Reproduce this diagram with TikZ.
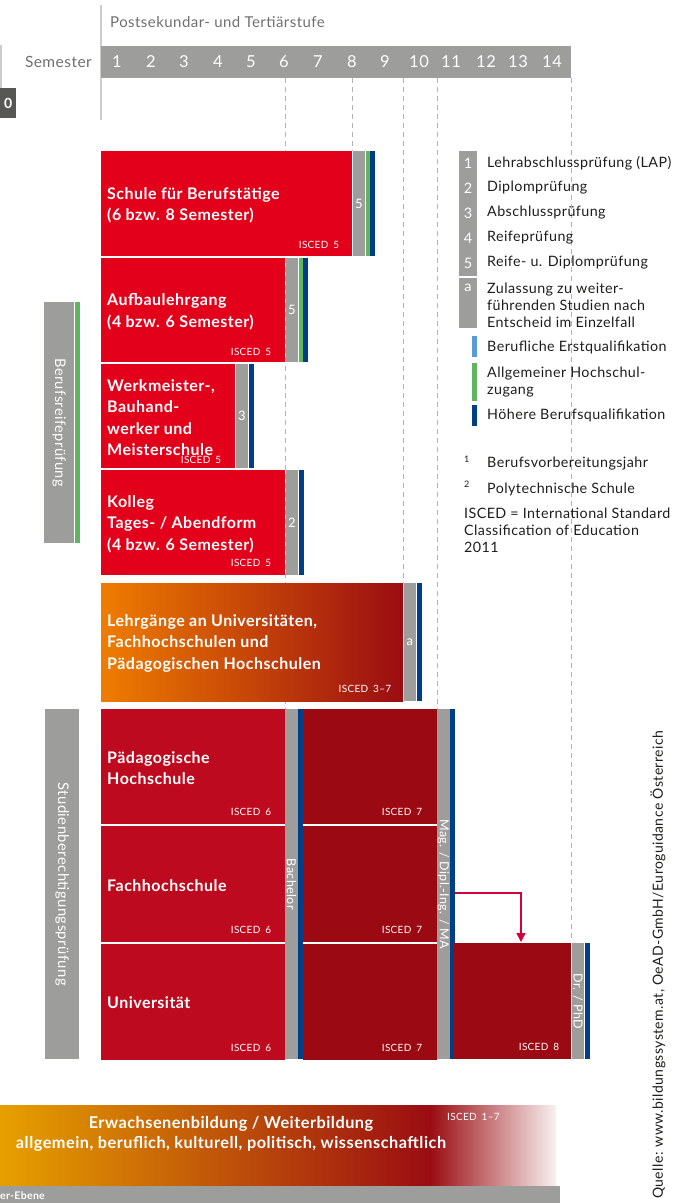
\documentclass[tikz,border=0pt]{standalone}
\usepackage{fontspec}
\setmainfont{Lato}[LetterSpace=3]
\usetikzlibrary{positioning, arrows.meta}

\definecolor{bargray}{HTML}{9D9D9C}
\definecolor{boxred}{HTML}{E2001A}
\definecolor{unired}{HTML}{BE0A1E}
\definecolor{masterred}{HTML}{9B0A12}
\definecolor{qualblue}{HTML}{003F87}
\definecolor{qualgreen}{HTML}{62B560}
\definecolor{firstblue}{HTML}{5B9BD5}
\definecolor{dashgray}{HTML}{B2B2B2}
\definecolor{headgray}{HTML}{6F6F6E}
\definecolor{darkbox}{HTML}{575756}
\definecolor{lgorange}{HTML}{EF7D00}
\definecolor{lgred}{HTML}{9A0C12}
\definecolor{ebyellow}{HTML}{E6A000}
\definecolor{arrowred}{HTML}{D4003C}
\definecolor{legendtext}{HTML}{1D1D1B}

\begin{document}
\begin{tikzpicture}[x=1pt, y=-1pt]
\tikzstyle{block}=[rectangle, inner sep=0pt, anchor=north west, fill=boxred]
\tikzstyle{exambar}=[rectangle, inner sep=0pt, minimum width=12.5pt, fill=bargray, text=white, font=\fontsize{13}{13}\selectfont]
\tikzstyle{qualbar}=[rectangle, inner sep=0pt, minimum width=5pt]
\tikzstyle{boxtitle}=[anchor=west, align=left, inner sep=0pt, text=white, font=\bfseries\fontsize{16}{21.3}\selectfont]
\tikzstyle{isced}=[anchor=east, inner sep=0pt, text=white, font=\fontsize{10}{10}\selectfont]
\tikzstyle{sidebar}=[rectangle, inner sep=0pt, anchor=north west, fill=bargray]
\tikzstyle{sidetext}=[rotate=-90, inner sep=0pt, text=white, font=\fontsize{12.5}{12.5}\selectfont]
\tikzstyle{legend}=[anchor=west, inner sep=0pt, align=left, text=legendtext, font=\fontsize{14.3}{17}\selectfont]
\tikzstyle{legnum}=[inner sep=0pt, text=white, font=\fontsize{14.5}{14.5}\selectfont]
\tikzstyle{semline}=[dash pattern=on 5pt off 4pt, dashgray, line width=1pt]
    \useasboundingbox (0,0) rectangle (678,1203);

    % header
    \draw[black!20, line width=1.5pt] (101,5) -- (101,120);
    \draw[black!20, line width=1.5pt] (1,45) -- (1,88);
    \node[rectangle, fill=darkbox, inner sep=0pt, anchor=north west, minimum width=16pt, minimum height=30pt,
          text=white, font=\bfseries\fontsize{14}{14}\selectfont] (Prev) at (0,88) {0};
    \node[anchor=west, inner sep=0pt, text=headgray, font=\fontsize{15}{15}\selectfont] (Stufe) at (110,22) {Postsekundar- und Tertiärstufe};
    \node[rectangle, fill=bargray, inner sep=0pt, anchor=north west, minimum width=470pt, minimum height=32pt] (Sem) at (101,46) {};
    \node[anchor=east, inner sep=0pt, text=headgray, font=\fontsize{15.5}{15.5}\selectfont] (SemLabel) at (92,62) {Semester};
    \foreach \x/\n in {117/1, 151/2, 184/3, 218/4, 251/5, 284/6, 318/7, 352/8, 385/9, 419/10, 451/11, 486/12, 518/13, 552/14}
        \node[inner sep=0pt, text=white, font=\fontsize{16.5}{16.5}\selectfont] at (\x,62) {\n};

    % semester boundaries
    \draw[semline] (285,78) -- (285,709);
    \draw[semline] (352,78) -- (352,151);
    \draw[semline] (403,78) -- (403,583);
    \draw[semline] (437,78) -- (437,709);
    \draw[semline] (571,78) -- (571,942);

    % Berufsreifeprüfung
    \node[sidebar, minimum width=30pt, minimum height=241pt] (BRP) at (44,302) {};
    \node[qualbar, fill=qualgreen, minimum height=241pt, right=0pt of BRP] (BRPgreen) {};
    \node[sidetext, font=\fontsize{14.6}{14.6}\selectfont] at (BRP.center) {Berufsreifeprüfung};

    % Schule für Berufstätige
    \node[block, minimum width=251pt, minimum height=105pt] (SfB) at (101,151) {};
    \node[exambar, minimum height=105pt, right=0pt of SfB] (SfBexam) {5};
    \node[qualbar, fill=qualgreen, minimum width=4pt, minimum height=105pt, right=0pt of SfBexam] (SfBgreen) {};
    \node[qualbar, fill=qualblue, minimum height=105pt, right=0pt of SfBgreen] (SfBblue) {};
    \node[boxtitle] at ([xshift=6pt, yshift=-1.5pt]SfB.west) {Schule für Berufstätige\\(6 bzw. 8 Semester)};
    \node[isced] at ([xshift=-13pt, yshift=11pt]SfB.south east) {ISCED\enspace 5};

    % Aufbaulehrgang
    \node[block, minimum width=184pt, minimum height=104pt] (Aufbau) at (101,258) {};
    \node[exambar, minimum height=104pt, right=0pt of Aufbau] (Aufbauexam) {5};
    \node[qualbar, fill=qualgreen, minimum width=4pt, minimum height=104pt, right=0pt of Aufbauexam] (Aufbaugreen) {};
    \node[qualbar, fill=qualblue, minimum height=104pt, right=0pt of Aufbaugreen] (Aufbaublue) {};
    \node[boxtitle] at ([xshift=6pt, yshift=-1.5pt]Aufbau.west) {Aufbaulehrgang\\(4 bzw. 6 Semester)};
    \node[isced] at ([xshift=-14pt, yshift=10pt]Aufbau.south east) {ISCED\enspace 5};

    % Werkmeister
    \node[block, minimum width=134pt, minimum height=104pt] (Werk) at (101,364) {};
    \node[exambar, minimum height=104pt, right=0pt of Werk] (Werkexam) {3};
    \node[qualbar, fill=qualblue, minimum height=104pt, right=0pt of Werkexam] (Werkblue) {};
    \node[boxtitle] at ([xshift=6pt, yshift=-1.5pt]Werk.west) {Werkmeister-,\\Bauhand-\\werker und\\Meisterschule};
    \node[isced] at ([xshift=-14pt, yshift=8pt]Werk.south east) {ISCED\enspace 5};

    % Kolleg
    \node[block, minimum width=184pt, minimum height=105pt] (Kolleg) at (101,470) {};
    \node[exambar, minimum height=105pt, right=0pt of Kolleg] (Kollegexam) {2};
    \node[qualbar, fill=qualblue, minimum height=105pt, right=0pt of Kollegexam] (Kollegblue) {};
    \node[boxtitle] at ([xshift=6pt, yshift=-1.5pt]Kolleg.west) {Kolleg\\Tages- / Abendform\\(4 bzw. 6 Semester)};
    \node[isced] at ([xshift=-14pt, yshift=12pt]Kolleg.south east) {ISCED\enspace 5};

    % Lehrgänge
    \node[block, fill=none, left color=lgorange, right color=lgred, minimum width=302pt, minimum height=118pt] (Lehrg) at (101,583) {};
    \node[exambar, minimum height=118pt, right=0pt of Lehrg] (Lehrgexam) {a};
    \node[qualbar, fill=qualblue, minimum height=118pt, right=0pt of Lehrgexam] (Lehrgblue) {};
    \node[boxtitle] at ([xshift=6pt, yshift=-1pt]Lehrg.west) {Lehrgänge an Universitäten,\\Fachhochschulen und\\Pädagogischen Hochschulen};
    \node[isced] at ([xshift=-12pt, yshift=12pt]Lehrg.south east) {ISCED\enspace 3--7};

    % Studienberechtigungsprüfung
    \node[sidebar, minimum width=34pt, minimum height=350pt] (SBP) at (45,709) {};
    \node[sidetext, font=\fontsize{14.8}{14.8}\selectfont] at (SBP.center) {Studienberechtigungsprüfung};

    % Hochschulen, Bachelor
    \node[block, fill=unired, minimum width=184pt, minimum height=115pt] (PH) at (101,709) {};
    \node[block, fill=unired, minimum width=184pt, minimum height=115.5pt, below=1.5pt of PH] (FH) {};
    \node[block, fill=unired, minimum width=184pt, minimum height=116pt, below=1.5pt of FH] (Uni) {};
    \node[boxtitle] at ([xshift=6pt, yshift=-1.5pt]PH.west) {Pädagogische\\Hochschule};
    \node[boxtitle] at ([xshift=6pt, yshift=-1.5pt]FH.west) {Fachhochschule};
    \node[boxtitle] at ([xshift=6pt, yshift=-1pt]Uni.west) {Universität};
    \node[isced] at ([xshift=-14pt, yshift=12pt]PH.south east) {ISCED\enspace 6};
    \node[isced] at ([xshift=-14pt, yshift=12pt]FH.south east) {ISCED\enspace 6};
    \node[isced] at ([xshift=-14pt, yshift=12pt]Uni.south east) {ISCED\enspace 6};
    \node[exambar, anchor=north west, minimum height=350pt] (Bachelor) at (285,709) {};
    \node[qualbar, fill=qualblue, minimum height=350pt, right=0pt of Bachelor] (Bachelorblue) {};
    \node[sidetext] at (Bachelor.center) {Bachelor};

    % Master
    \node[block, fill=masterred, minimum width=134pt, minimum height=115pt] (PHma) at (303,709) {};
    \node[block, fill=masterred, minimum width=134pt, minimum height=115.5pt, below=1.5pt of PHma] (FHma) {};
    \node[block, fill=masterred, minimum width=134pt, minimum height=116pt, below=1.5pt of FHma] (Unima) {};
    \node[isced] at ([xshift=-15pt, yshift=12pt]PHma.south east) {ISCED\enspace 7};
    \node[isced] at ([xshift=-15pt, yshift=12pt]FHma.south east) {ISCED\enspace 7};
    \node[isced] at ([xshift=-15pt, yshift=12pt]Unima.south east) {ISCED\enspace 7};
    \node[exambar, anchor=north west, minimum height=350pt] (Mag) at (437,709) {};
    \node[qualbar, fill=qualblue, minimum height=350pt, right=0pt of Mag] (Magblue) {};
    \node[sidetext] at (Mag.center) {Mag. / Dipl.-Ing. / MA};

    % Doktorat
    \node[block, fill=masterred, minimum width=117pt, minimum height=116pt] (Dr) at (454,943) {};
    \node[exambar, minimum height=116pt, right=0pt of Dr] (Drexam) {};
    \node[qualbar, fill=qualblue, minimum height=116pt, right=0pt of Drexam] (Drblue) {};
    \node[sidetext] at (Drexam.center) {Dr. / PhD};
    \node[isced] at ([xshift=-12pt, yshift=12pt]Dr.south east) {ISCED\enspace 8};
    \coordinate (arrowend) at (521,942);
    \draw[arrowred, line width=1.5pt, -{Triangle[length=9pt, width=9pt]}] (Magblue.east |- 0,893) -| (arrowend);

    % legend
    \node[sidebar, minimum width=18pt, minimum height=177pt] (Leg) at (459,151) {};
    \draw[white, line width=1.5pt] (Leg.west |- 0,277) -- (Leg.east |- 0,277);
    \node[legnum] at (468,163) {1};
    \node[legnum] at (468,188) {2};
    \node[legnum] at (468,213) {3};
    \node[legnum] at (468,238) {4};
    \node[legnum] at (468,263) {5};
    \node[legnum] at (468,288) {a};
    \node[legend] (L1) at (487,163) {Lehrabschlussprüfung (LAP)};
    \node[legend] (L2) at (487,188) {Diplomprüfung};
    \node[legend] (L3) at (487,213) {Abschlussprüfung};
    \node[legend] (L4) at (487,238) {Reifeprüfung};
    \node[legend] (L5) at (487,263) {Reife- u. Diplomprüfung};
    \node[legend] (La) at (487,305) {Zulassung zu weiter-\\führenden Studien nach\\Entscheid im Einzelfall};
    \node[qualbar, fill=firstblue, anchor=north west, minimum height=21pt] (LegFirst) at (472,336) {};
    \node[qualbar, fill=qualgreen, anchor=north west, minimum height=38pt] (LegGreen) at (472,363) {};
    \node[qualbar, fill=qualblue, anchor=north west, minimum height=21pt] (LegBlue) at (472,405) {};
    \node[legend] (Lfirst) at (487,347) {Berufliche Erstqualifikation};
    \node[legend] (Lgreen) at (487,382) {Allgemeiner Hochschul-\\zugang};
    \node[legend] (Lblue) at (487,415) {Höhere Berufsqualifikation};
    \node[legend, font=\fontsize{9}{9}\selectfont] at (464,459) {1};
    \node[legend] (F1) at (487,464) {Berufsvorbereitungsjahr};
    \node[legend, font=\fontsize{9}{9}\selectfont] at (464,484) {2};
    \node[legend] (F2) at (487,489) {Polytechnische Schule};
    \node[legend] (Iscedkey) at (464,530) {ISCED = International Standard\\Classification of Education\\2011};

    % Erwachsenenbildung
    \fill[left color=ebyellow, right color=lgred] (0,1105) rectangle (430,1186);
    \fill[left color=lgred, right color=lgred!6] (430,1105) rectangle (556,1186);
    \node[inner sep=0pt, align=center, text=white, font=\bfseries\fontsize{16.3}{20}\selectfont] (EB) at (231,1134)
        {Erwachsenenbildung / Weiterbildung\\allgemein, beruflich, kulturell, politisch, wissenschaftlich};
    \node[anchor=west, inner sep=0pt, text=white, font=\fontsize{10}{10}\selectfont] (EBisced) at (447,1117) {ISCED\enspace 1--7};
    \fill[bargray] (0,1186) rectangle (560,1203);
    \node[anchor=west, inner sep=0pt, text=white, font=\bfseries\fontsize{10.5}{10.5}\selectfont] (Ebene) at (0,1196) {er-Ebene};

    % source
    \node[rotate=90, anchor=west, inner sep=0pt, text=legendtext, font=\fontsize{14}{14}\selectfont] (Source) at (658,1199)
        {Quelle: www.bildungssystem.at, OeAD-GmbH/Euroguidance Österreich};
\end{tikzpicture}
\end{document}
